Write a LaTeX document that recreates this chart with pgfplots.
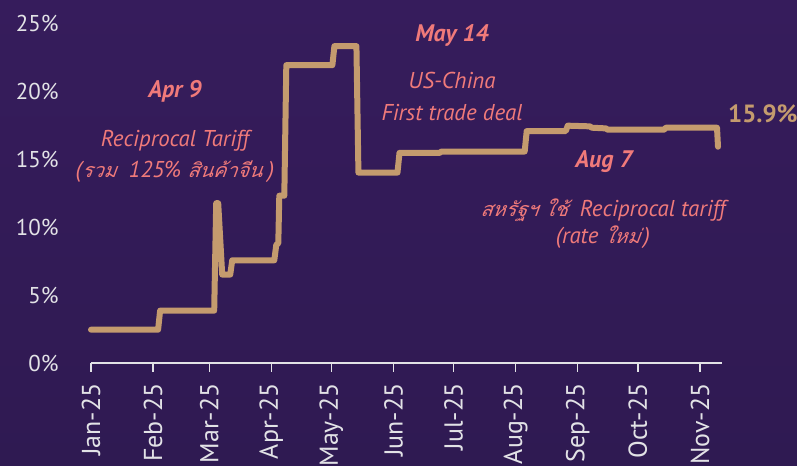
\documentclass[border=0pt]{standalone}
\usepackage{fontspec}
\setmainfont{PT Sans}
\newfontfamily\thaifont[Script=Thai,FakeSlant=0.16,Scale=0.86]{Loma}
\usepackage{pgfplots}
\pgfplotsset{compat=1.18}
\usepackage{pgfplotstable}
\definecolor{bgtop}{RGB}{54,28,92}
\definecolor{bgbot}{RGB}{47,26,82}
\definecolor{lineC}{RGB}{196,155,110}
\definecolor{noteC}{RGB}{240,122,122}
\definecolor{tickC}{RGB}{226,226,230}
\newcommand{\tht}[1]{{\thaifont #1}}
\pgfplotstableread{
day val
0 2.45
33.5 2.45
34.5 3.85
61.5 3.85
62.5 11.75
63.5 11.75
65.5 6.5
69.5 6.5
70.5 7.55
91.5 7.55
92.5 8.7
93.5 8.8
94 12.3
96.5 12.3
97.5 21.9
120.5 21.9
121.5 23.3
132.5 23.3
133.5 14.0
153 14.0
154 15.45
174 15.45
175 15.55
216.5 15.55
217.5 17.05
237 17.05
238 17.45
249 17.4
250 17.3
257 17.25
258 17.15
286 17.15
287 17.3
312.5 17.3
313 15.9
}\tariff
\begin{document}
\begin{tikzpicture}[x=1bp,y=1bp]
\shade[top color=bgtop,bottom color=bgbot] (0,0) rectangle (797,466);
\useasboundingbox (0,0) rectangle (797,466);
\begin{axis}[
  at={(91bp,103bp)}, anchor=south west,
  scale only axis, width=631bp, height=340bp,
  xmin=0, xmax=315, ymin=0, ymax=25,
  axis x line=bottom, axis y line=left,
  x axis line style={-, draw=tickC, line width=1.3bp},
  y axis line style={draw=none},
  xtick={0,31,59,90,120,151,181,212,243,273,304},
  xticklabels={Jan-25,Feb-25,Mar-25,Apr-25,May-25,Jun-25,Jul-25,Aug-25,Sep-25,Oct-25,Nov-25},
  ytick={0,5,10,15,20,25},
  tick align=outside,
  major tick length=9bp,
  xtick style={draw=tickC, line width=1.3bp},
  ytick style={draw=none},
  /pgf/number format/assume math mode=true,
  yticklabel={\pgfmathprintnumber{\tick}\%},
  xticklabel style={rotate=90, anchor=east, font=\fontsize{26}{28}\selectfont, text=tickC, xshift=-8bp},
  yticklabel style={font=\fontsize{23}{26}\selectfont, text=tickC, xshift=-20bp},
  clip=false,
]
\addplot[lineC, line width=6bp, line cap=round, line join=round] table[x=day,y=val] {\tariff};
\end{axis}
\begin{scope}[every node/.style={text=noteC, anchor=base, inner sep=0pt}]
\node[font=\fontsize{24}{26}\selectfont\bfseries\itshape] at (175,368) {Apr 9};
\node[font=\fontsize{23}{26}\selectfont\itshape] at (175,319) {Reciprocal Tariff};
\node[font=\fontsize{23}{26}\selectfont\itshape] at (175,288) {(\tht{รวม}\ \ 125\% \tht{สินค้าจีน}\ )};
\node[font=\fontsize{24}{26}\selectfont\bfseries\itshape] at (452,424) {May 14};
\node[font=\fontsize{23}{26}\selectfont\itshape] at (452,377) {US-China};
\node[font=\fontsize{23}{26}\selectfont\itshape] at (452,345) {First trade deal};
\node[font=\fontsize{24}{26}\selectfont\bfseries\itshape] at (604,298) {Aug 7};
\node[font=\fontsize{23}{26}\selectfont\itshape] at (603,249) {\tht{สหรัฐฯ ใช้}\ \ Reciprocal tariff};
\node[font=\fontsize{23}{26}\selectfont\itshape] at (603,222) {(rate \tht{ใหม่}\,)};
\end{scope}
\node[text=lineC, anchor=base west, inner sep=0pt, font=\fontsize{25}{28}\selectfont\bfseries] at (728,343) {15.9\%};
\end{tikzpicture}
\end{document}
